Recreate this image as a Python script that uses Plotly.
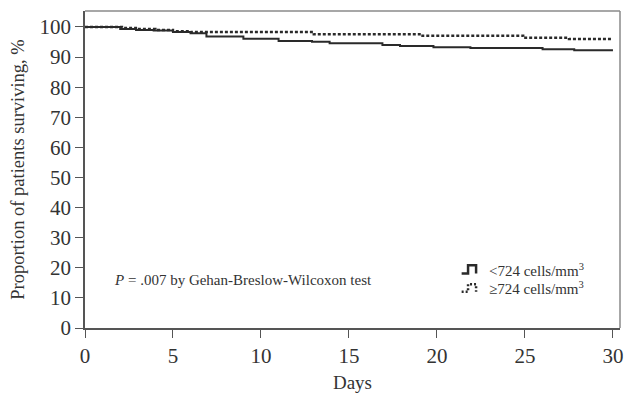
import plotly.graph_objects as go

# Kaplan-Meier step data
days_low = [0, 2.0, 2.9, 3.9, 5.0, 6.0, 6.9, 9.0, 11.0, 12.9, 13.9, 16.9, 17.9, 19.8, 21.9, 26.0, 27.8, 30.0]
surv_low = [100, 99.3, 99.0, 98.8, 98.3, 97.9, 96.8, 96.1, 95.3, 95.1, 94.6, 94.0, 93.7, 93.3, 93.0, 92.6, 92.3, 92.3]

days_high = [0, 2.1, 3.0, 4.0, 5.0, 6.0, 13.0, 19.1, 24.9, 27.5, 30.0]
surv_high = [100, 99.7, 99.3, 99.0, 98.6, 98.3, 97.6, 97.1, 96.4, 96.0, 96.0]

x_ticks = [0, 5, 10, 15, 20, 25, 30]
y_ticks = [0, 10, 20, 30, 40, 50, 60, 70, 80, 90, 100]

FONT = "Liberation Serif"
INK = "#333333"

fig = go.Figure()
fig.add_trace(go.Scatter(x=days_high, y=surv_high, mode="lines", line_shape="hv",
                         line=dict(color="#2a2a2a", width=2.4, dash="3px,2px"),
                         name="≥724 cells/mm<sup>3</sup>", showlegend=False))
fig.add_trace(go.Scatter(x=days_low, y=surv_low, mode="lines", line_shape="hv",
                         line=dict(color="#2a2a2a", width=2),
                         name="<724 cells/mm<sup>3</sup>", showlegend=False))

fig.update_layout(
    width=627, height=393,
    margin=dict(l=85, r=7, t=11, b=65),
    paper_bgcolor="white", plot_bgcolor="white",
    font=dict(family=FONT, color=INK, size=18),
    xaxis=dict(range=[0, 30.4], tickvals=x_ticks, ticks="outside", ticklen=8,
               tickcolor="#555", showline=True, linecolor="#555", linewidth=1.5,
               showgrid=False, zeroline=False, tickfont=dict(size=21), automargin=False,
               ticklabeloverflow="allow",
               title=dict(text="Days", font=dict(size=19), standoff=10)),
    yaxis=dict(range=[0, 105.3], tickvals=y_ticks, ticks="outside", ticklen=8,
               tickcolor="#555", showline=True, linecolor="#555", linewidth=1.5,
               showgrid=False, zeroline=False, tickfont=dict(size=21), automargin=False,
               title=dict(text="Proportion of patients surviving, %", font=dict(size=18.5), standoff=10)),
)

# top and right frame
fig.add_shape(type="line", xref="paper", yref="paper", x0=0, x1=1, y0=1, y1=1,
              line=dict(color="#8a8a8a", width=1.5))
fig.add_shape(type="line", xref="paper", yref="paper", x0=1, x1=1, y0=0, y1=1,
              line=dict(color="#8a8a8a", width=1.5))

# P value annotation
fig.add_annotation(xref="paper", yref="paper", x=0.05, y=0.15, xanchor="left", yanchor="middle",
                   text="<i>P</i> = .007 by Gehan-Breslow-Wilcoxon test", showarrow=False,
                   font=dict(size=15, family=FONT, color=INK))

# custom legend
fig.add_annotation(xref="paper", yref="paper", x=0.752, y=0.183, xanchor="left", yanchor="middle",
                   text="<724 cells/mm<sup>3</sup>", showarrow=False,
                   font=dict(size=15, family=FONT, color=INK))
fig.add_annotation(xref="paper", yref="paper", x=0.752, y=0.125, xanchor="left", yanchor="middle",
                   text="≥724 cells/mm<sup>3</sup>", showarrow=False,
                   font=dict(size=15, family=FONT, color=INK))
# legend icons (step shapes)
fig.add_shape(type="path", xref="paper", yref="paper",
              path="M 0.704 0.172 L 0.716 0.172 L 0.716 0.198 L 0.731 0.198 L 0.731 0.172",
              line=dict(color="#2a2a2a", width=2.5))
fig.add_shape(type="path", xref="paper", yref="paper",
              path="M 0.704 0.114 L 0.716 0.114 L 0.716 0.138 L 0.731 0.138 L 0.731 0.114",
              line=dict(color="#2a2a2a", width=2.5, dash="2px,2px"))

fig.write_html("out.html", config={"displayModeBar": False},
               post_script="document.body.style.margin='0';document.body.style.overflow='hidden';")
